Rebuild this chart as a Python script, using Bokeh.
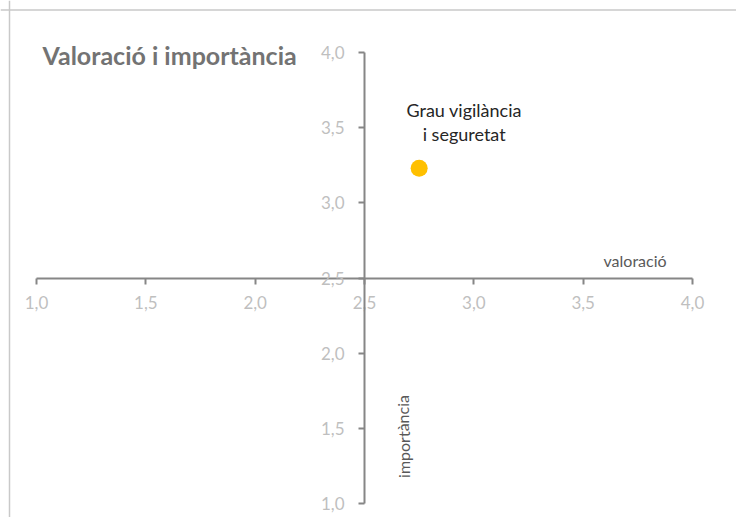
from bokeh.plotting import figure
from bokeh.models import (Range1d, LinearAxis, FixedTicker, CustomJSTickFormatter,
                          Label, Span, ColumnDataSource)
from bokeh.core.properties import value
from bokeh.embed import file_html
from bokeh.resources import INLINE

# ---- data ----
title_text = "Valoració i importància"
x_title = "valoració"
y_title = "importància"
point_names = ["Grau vigilància\ni seguretat"]
valoracio = [2.75]
importancia = [3.23]
x_ticks = [1.0, 1.5, 2.0, 2.5, 3.0, 3.5, 4.0]
y_ticks = [1.0, 1.5, 2.0, 2.5, 3.0, 3.5, 4.0]
cross_x = 2.5
cross_y = 2.5

W, H = 736, 517
FONT = "Lato"

# ranges chosen so that the axes sit where the reference puts them
x_px = 218.67  # px per unit
y_px = 150.33
x0 = 1.0 - 36 / x_px
x1 = 4.0 + (W - 692) / x_px
y1 = 4.0 + 52 / y_px
y0 = 1.0 - (H - 503) / y_px

p = figure(width=W, height=H, output_backend="svg", toolbar_location=None,
           x_range=Range1d(x0, x1), y_range=Range1d(y0, y1),
           x_axis_type=None, y_axis_type=None, min_border=0,
           background_fill_color="white", border_fill_color="white")
p.outline_line_color = None
p.xgrid.visible = False
p.ygrid.visible = False

fmt = CustomJSTickFormatter(code="return tick.toFixed(1).replace('.', ',');")

AXIS_COLOR = "#868686"
LABEL_COLOR = "#bfbfbf"

xaxis = LinearAxis(fixed_location=cross_y, ticker=FixedTicker(ticks=x_ticks),
                   formatter=fmt, bounds=(min(x_ticks), max(x_ticks)))
xaxis.axis_line_color = AXIS_COLOR
xaxis.axis_line_width = 2
xaxis.major_tick_line_color = AXIS_COLOR
xaxis.major_tick_line_width = 2
xaxis.major_tick_in = 0
xaxis.major_tick_out = 6
xaxis.minor_tick_line_color = None
xaxis.major_label_text_color = LABEL_COLOR
xaxis.major_label_text_font = FONT
xaxis.major_label_text_font_size = "17px"
xaxis.major_label_standoff = 12
p.add_layout(xaxis, "below")

yaxis = LinearAxis(fixed_location=cross_x, ticker=FixedTicker(ticks=y_ticks),
                   formatter=fmt, bounds=(min(y_ticks), max(y_ticks)))
yaxis.axis_line_color = AXIS_COLOR
yaxis.axis_line_width = 2
yaxis.major_tick_line_color = AXIS_COLOR
yaxis.major_tick_line_width = 2
yaxis.major_tick_in = 0
yaxis.major_tick_out = 6
yaxis.minor_tick_line_color = None
yaxis.major_label_text_color = LABEL_COLOR
yaxis.major_label_text_font = FONT
yaxis.major_label_text_font_size = "17px"
yaxis.major_label_standoff = 14
p.add_layout(yaxis, "left")

# chart area border (left / top visible in the reference)
p.add_layout(Span(location=9, location_units="screen", dimension="height",
                  line_color="#c9c9c9", line_width=1.5))
p.add_layout(Span(location=H - 9.5, location_units="screen", dimension="width",
                  line_color="#c9c9c9", line_width=1.5))

src = ColumnDataSource(dict(x=valoracio, y=importancia, name=point_names))
p.scatter("x", "y", source=src, size=17, fill_color="#FFC000",
          line_color="#FFC000", line_width=0)
p.text("x", "y", text="name", source=src, x_offset=45, y_offset=-46,
       text_align="center", text_baseline="middle",
       text_font=value(FONT), text_font_size="18px", text_color="#262626",
       text_line_height=1.1)

# title
p.add_layout(Label(x=42, y=H - 54, x_units="screen", y_units="screen",
                   text=title_text, text_font=FONT, text_font_size="25px",
                   text_font_style="bold", text_color="#737373",
                   text_baseline="middle", text_align="left"))
# axis titles
p.add_layout(Label(x=603, y=H - 260, x_units="screen", y_units="screen",
                   text=x_title, text_font=FONT, text_font_size="16px",
                   text_color="#595959", text_baseline="middle", text_align="left"))
p.add_layout(Label(x=402.5, y=H - 436, x_units="screen", y_units="screen",
                   text=y_title, text_font=FONT, text_font_size="16px",
                   text_color="#595959", text_baseline="middle", text_align="center",
                   angle=1.5708))

open("out.html", "w").write(file_html(p, INLINE))
